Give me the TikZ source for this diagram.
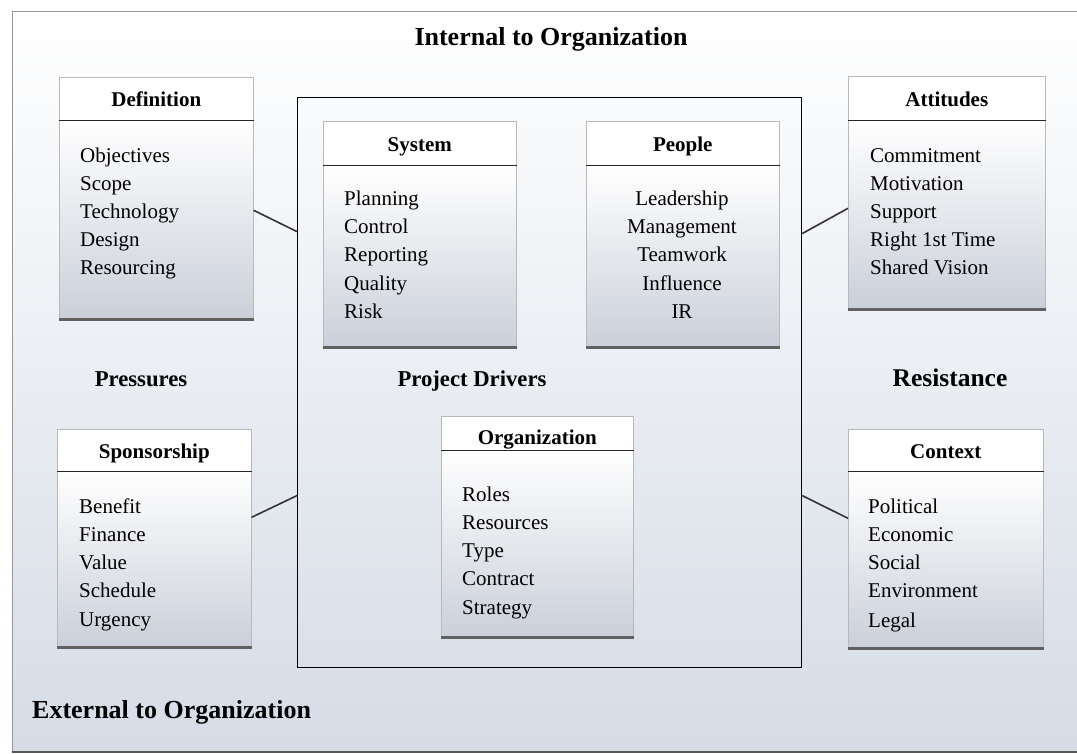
\documentclass[tikz,border=0pt]{standalone}
\usepackage{fontspec}
\setmainfont{Liberation Serif}
\definecolor{bgmid}{RGB}{232,232,234}
\definecolor{bgbot}{RGB}{213,220,230}
\definecolor{boxbot}{RGB}{202,207,217}
\definecolor{frameline}{RGB}{150,150,150}
\tikzset{
  hdr/.style={draw=gray!55, line width=0.6pt, fill=white, inner sep=0, anchor=north west,
    text height=18pt, text depth=2pt, font=\bfseries\fontsize{21}{25}\selectfont},
  bodybox/.style={draw=gray!55, line width=0.6pt, top color=white, bottom color=boxbot, inner sep=0, anchor=north west},
  item/.style={anchor=base west, inner sep=0, font=\fontsize{21}{25}\selectfont},
  citem/.style={anchor=base, inner sep=0, font=\fontsize{21}{25}\selectfont},
  divider/.style={line width=1.5pt, black!85},
  shadowline/.style={line width=3pt, black!62},
  conn/.style={line width=1.6pt, black!80},
  biglabel/.style={anchor=base, inner sep=0, font=\bfseries\fontsize{22.7}{27}\selectfont}
}
\begin{document}
\begin{tikzpicture}[x=1pt,y=-1pt]
\useasboundingbox (0,0) rectangle (1077,754);
\fill[white] (0,0) rectangle (1077,754);
\shade[top color=white, middle color=bgmid, bottom color=bgbot] (12,11) rectangle (1077,752);
\draw[frameline, line width=0.8pt] (1077,11) -- (12,11) -- (12,752);
\draw[black!65, line width=1.6pt] (12,752) -- (1077,752);

% main box
\node[draw=black, line width=1.2pt, minimum width=504pt, minimum height=570pt, inner sep=0, anchor=north west] (main) at (297,97) {};

% labels
\node[biglabel, font=\bfseries\fontsize{26}{30}\selectfont] (internal) at (551,46) {Internal to Organization};
\node[biglabel] (pressures) at (141,386) {Pressures};
\node[biglabel] (drivers) at (472,386) {Project Drivers};
\node[biglabel, font=\bfseries\fontsize{25.5}{30}\selectfont] (resistance) at (950,386) {Resistance};
\node[biglabel, anchor=base west, font=\bfseries\fontsize{26}{30}\selectfont] (external) at (32,718) {External to Organization};

% Definition
\node[bodybox, minimum width=194pt, minimum height=200pt] (defb) at (59,120) {};
\node[hdr, minimum width=194pt, minimum height=43pt] (defh) at (59,77) {Definition};
\draw[divider] (defh.south west) -- (defh.south east);
\draw[shadowline] ([yshift=1.5pt]defb.south west) -- ([yshift=1.5pt]defb.south east);
\foreach \t [count=\i] in {Objectives,Scope,Technology,Design,Resourcing}
  \node[item] (def\i) at (80,{163+28*(\i-1)}) {\t};

% Attitudes
\node[bodybox, minimum width=197pt, minimum height=190pt] (attb) at (848,120) {};
\node[hdr, minimum width=197pt, minimum height=44pt] (atth) at (848,76) {Attitudes};
\draw[divider] (atth.south west) -- (atth.south east);
\draw[shadowline] ([yshift=1.5pt]attb.south west) -- ([yshift=1.5pt]attb.south east);
\foreach \t [count=\i] in {Commitment,Motivation,Support,Right 1st Time,Shared Vision}
  \node[item] (att\i) at (870,{163+28*(\i-1)}) {\t};

% System
\node[bodybox, minimum width=193pt, minimum height=183pt] (sysb) at (323,165) {};
\node[hdr, minimum width=193pt, minimum height=44pt] (sysh) at (323,121) {System};
\draw[divider] (sysh.south west) -- (sysh.south east);
\draw[shadowline] ([yshift=1.5pt]sysb.south west) -- ([yshift=1.5pt]sysb.south east);
\foreach \t [count=\i] in {Planning,Control,Reporting,Quality,Risk}
  \node[item] (sys\i) at (344,{205.5+28.25*(\i-1)}) {\t};

% People
\node[bodybox, minimum width=193pt, minimum height=183pt] (peob) at (586,165) {};
\node[hdr, minimum width=193pt, minimum height=44pt] (peoh) at (586,121) {People};
\draw[divider] (peoh.south west) -- (peoh.south east);
\draw[shadowline] ([yshift=1.5pt]peob.south west) -- ([yshift=1.5pt]peob.south east);
\foreach \t [count=\i] in {Leadership,Management,Teamwork,Influence,IR}
  \node[citem] (peo\i) at (682,{205.5+28.25*(\i-1)}) {\t};

% Sponsorship
\node[bodybox, minimum width=194pt, minimum height=177pt] (spob) at (57,471) {};
\node[hdr, minimum width=194pt, minimum height=42pt] (spoh) at (57,429) {Sponsorship};
\draw[divider] (spoh.south west) -- (spoh.south east);
\draw[shadowline] ([yshift=1.5pt]spob.south west) -- ([yshift=1.5pt]spob.south east);
\foreach \t [count=\i] in {Benefit,Finance,Value,Schedule,Urgency}
  \node[item] (spo\i) at (79,{513+28.25*(\i-1)}) {\t};

% Organization
\node[bodybox, minimum width=192pt, minimum height=188pt] (orgb) at (441,450) {};
\node[hdr, minimum width=192pt, minimum height=34pt, text height=22pt, text depth=0pt] (orgh) at (441,416) {Organization};
\draw[divider] (orgh.south west) -- (orgh.south east);
\draw[shadowline] ([yshift=1.5pt]orgb.south west) -- ([yshift=1.5pt]orgb.south east);
\foreach \t [count=\i] in {Roles,Resources,Type,Contract,Strategy}
  \node[item] (org\i) at (462,{501+28.25*(\i-1)}) {\t};

% Context
\node[bodybox, minimum width=195pt, minimum height=178pt] (conb) at (848,471) {};
\node[hdr, minimum width=195pt, minimum height=42pt] (conh) at (848,429) {Context};
\draw[divider] (conh.south west) -- (conh.south east);
\draw[shadowline] ([yshift=1.5pt]conb.south west) -- ([yshift=1.5pt]conb.south east);
\foreach \t [count=\i] in {Political,Economic,Social,Environment}
  \node[item] (con\i) at (868,{513+28.2*(\i-1)}) {\t};
\node[item] (con5) at (868,627) {Legal};

% connectors
\draw[conn] ([yshift=10pt]defb.east) -- ([yshift=151pt]main.west);
\draw[conn] ([yshift=7pt]attb.west) -- ([yshift=149pt]main.east);
\draw[conn] ([yshift=42.5pt]spob.east) -- ([yshift=-113pt]main.west);
\draw[conn] ([yshift=42pt]conb.west) -- ([yshift=-113pt]main.east);
\end{tikzpicture}
\end{document}
